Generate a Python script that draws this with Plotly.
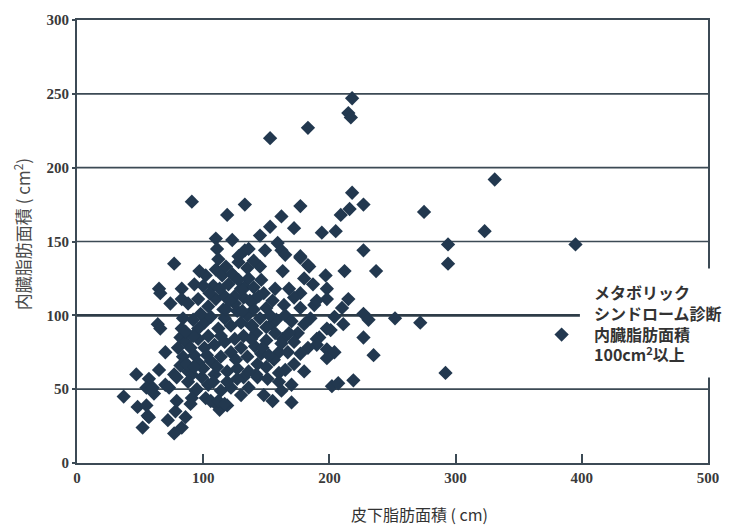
import plotly.graph_objects as go

# Subcutaneous fat area (x) vs. visceral fat area (y), one point per subject
subcutaneous = [
    218, 215, 217, 183, 153, 331, 323, 395, 294, 294, 275, 384, 292, 272, 252, 237, 227, 227, 218, 216,
    209, 194, 205, 177, 212, 197, 177, 184, 215, 210, 187, 198, 177, 227, 231, 211, 227, 201, 190, 198,
    204, 235, 177, 202, 207, 219,
    91, 133, 119, 110, 123, 111, 133, 112, 128, 77, 110, 102, 125, 65, 83, 93, 108, 133,
    162, 153, 172, 145, 159, 136, 149, 162, 165, 177, 183, 145, 163, 136, 146, 140, 157,
    141, 164, 177, 188, 198, 204, 180, 198, 192, 190, 198, 160, 167, 150, 163, 141, 146, 143, 143,
    151, 160, 170, 162, 155, 170, 136, 138, 154, 162,
    66, 74, 64, 66, 70, 47, 57, 65, 37, 55, 61, 48, 55, 57, 52, 72, 78, 79, 86, 77,
    83, 90, 91, 94, 102, 110, 113, 119, 60, 70, 56,
    83, 88, 96, 104, 110, 117, 125, 132, 127, 116, 84, 83, 82, 86, 80, 84, 82, 77, 73, 79,
    88, 96, 101, 106, 112, 117, 122, 130, 104, 109, 117, 125, 132, 101, 93, 96, 106, 114, 122, 130,
    91, 99, 109, 119, 127, 132, 104, 114, 122, 130, 96, 92, 90, 86, 114, 106, 112, 117,
    135, 140, 145, 150, 155, 148, 142, 150, 158, 165, 170, 172, 168, 180, 175, 168, 185, 190, 183, 172,
    156, 150, 165, 172, 180, 160, 148, 142, 135, 138, 130, 125, 120, 115, 97, 105, 118, 135, 128, 140,
    118, 123, 95, 88, 100, 108, 126, 136, 98, 92,
    103, 111, 119, 127, 87, 93, 100, 113, 121, 128, 137, 131, 144, 153, 157, 147, 139, 152,
]
visceral = [
    247, 237, 234, 227, 220, 192, 157, 148, 148, 135, 170, 87, 61, 95, 98, 130, 144, 175, 183, 172,
    168, 156, 157, 174, 130, 127, 139, 133, 111, 105, 121, 118, 115, 101, 97, 94, 85, 90, 84, 77,
    75, 73, 74, 52, 54, 56,
    177, 175, 168, 152, 151, 145, 144, 138, 136, 135, 131, 127, 126, 118, 118, 121, 120, 119,
    167, 160, 159, 154, 149, 145, 144, 144, 141, 140, 134, 133, 130, 125, 124, 119, 118,
    111, 107, 105, 107, 111, 99, 94, 91, 85, 80, 71, 75, 75, 83, 84, 79, 74, 67, 58,
    57, 55, 53, 49, 42, 41, 51, 93, 94, 81,
    115, 108, 94, 91, 75, 60, 57, 63, 45, 51, 47, 38, 39, 31, 24, 29, 35, 42, 31, 20,
    24, 40, 44, 49, 44, 40, 36, 39, 51, 53, 32,
    111, 108, 111, 106, 111, 113, 108, 112, 103, 104, 98, 91, 85, 82, 78, 72, 66, 60, 51, 58,
    62, 84, 95, 99, 91, 98, 93, 95, 86, 80, 82, 84, 86, 78, 73, 68, 69, 72, 75, 78,
    60, 58, 60, 62, 64, 58, 53, 49, 51, 46, 91, 86, 78, 89, 86, 42, 42, 40,
    100, 104, 98, 105, 110, 115, 88, 92, 97, 100, 96, 112, 118, 125, 88, 88, 98, 110, 78, 82,
    70, 65, 63, 67, 62, 61, 46, 60, 72, 84, 118, 113, 121, 127, 130, 115, 104, 132, 140, 137,
    133, 128, 50, 55, 64, 55, 70, 62, 101, 97,
    73, 65, 55, 57, 67, 65, 120, 118, 110, 124, 110, 103, 113, 100, 88, 78, 93, 73,
]

x_ticks = [0, 100, 200, 300, 400, 500]
y_ticks = [0, 50, 100, 150, 200, 250, 300]
grid_levels = [50, 150, 200, 250]
criterion = 100  # diagnostic threshold for visceral fat area

marker_color = "#22384f"
line_color = "#3c4a55"
serif_bold = dict(family="Liberation Serif", size=15, color="#3a3a3a", weight="bold")

fig = go.Figure()
fig.add_trace(go.Scatter(
    x=subcutaneous, y=visceral, mode="markers",
    marker=dict(symbol="diamond", size=11, color=marker_color, line=dict(width=0)),
    showlegend=False, hoverinfo="x+y",
))

shapes = []
for lvl in grid_levels:
    shapes.append(dict(type="line", xref="x domain", yref="y", x0=0, x1=1, y0=lvl, y1=lvl,
                       line=dict(color=line_color, width=1.6), layer="below"))
# threshold line stops where the label begins
shapes.append(dict(type="line", xref="x domain", yref="y", x0=0, x1=0.797, y0=criterion, y1=criterion,
                   line=dict(color="#2e3c47", width=2.6), layer="below"))

fig.update_layout(
    width=731, height=528,
    margin=dict(l=77, r=13, t=13, b=65),
    paper_bgcolor="white", plot_bgcolor="white",
    shapes=shapes,
    xaxis=dict(
        range=[0, 500], tickvals=x_ticks, ticktext=[str(v) for v in x_ticks],
        showgrid=False, zeroline=False,
        showline=True, linecolor=line_color, linewidth=1.8, mirror=True,
        ticks="inside", ticklen=9, tickwidth=1.6, tickcolor=line_color,
        tickfont=serif_bold,
    ),
    yaxis=dict(
        range=[0, 300], tickvals=y_ticks, ticktext=[str(v) for v in y_ticks],
        showgrid=False, zeroline=False,
        showline=True, linecolor=line_color, linewidth=2, mirror=True,
        ticks="outside", ticklen=3, tickwidth=1.5, tickcolor=line_color,
        tickfont=serif_bold,
    ),
    annotations=[
        dict(xref="paper", yref="paper", x=0.800, y=0.316, xanchor="left", yanchor="middle",
             text="メタボリック<br>シンドローム診断<br>内臓脂肪面積<br>100cm<sup>2</sup>以上",
             align="left", showarrow=False, bgcolor="white", borderpad=11, width=170,
             font=dict(family="Noto Sans CJK JP", size=16, color="#333333", weight="bold")),
        dict(xref="paper", yref="paper", x=-0.086, y=0.516, xanchor="center", yanchor="middle",
             text="内臓脂肪面積 ( cm<sup>2</sup>)", textangle=-90, showarrow=False,
             font=dict(family="Noto Sans CJK JP", size=17, color="#4a4a4a")),
        dict(xref="paper", yref="paper", x=0.543, y=-0.116, xanchor="center", yanchor="middle",
             text="皮下脂肪面積 ( cm)", showarrow=False,
             font=dict(family="Noto Sans CJK JP", size=16, color="#333333")),
    ],
)

fig.write_html("out.html")
